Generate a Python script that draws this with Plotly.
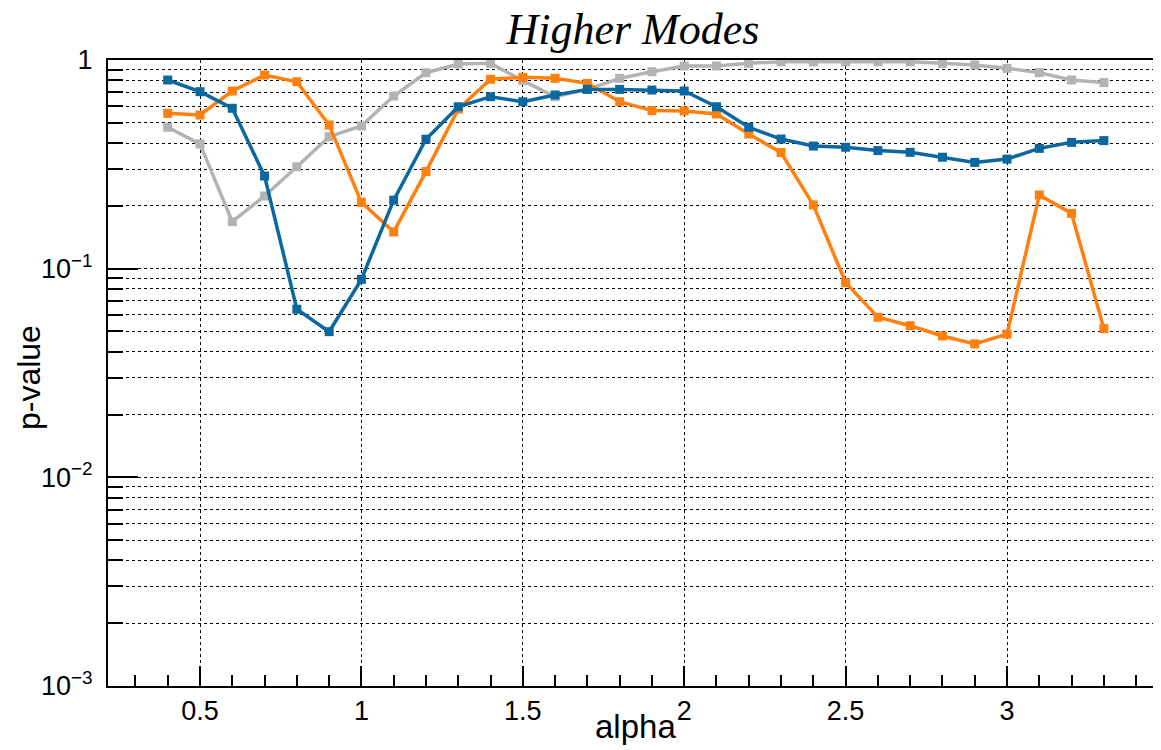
import plotly.graph_objects as go

alpha = [0.4, 0.5, 0.6, 0.7, 0.8, 0.9, 1.0, 1.1, 1.2, 1.3, 1.4, 1.5, 1.6, 1.7, 1.8,
         1.9, 2.0, 2.1, 2.2, 2.3, 2.4, 2.5, 2.6, 2.7, 2.8, 2.9, 3.0, 3.1, 3.2, 3.3]

pval_blue = [0.802, 0.705, 0.587, 0.278, 0.0639, 0.0499, 0.0889, 0.213, 0.417, 0.597,
             0.667, 0.631, 0.680, 0.723, 0.723, 0.718, 0.710, 0.597, 0.476, 0.418,
             0.387, 0.382, 0.368, 0.361, 0.342, 0.323, 0.335, 0.377, 0.403, 0.411]

pval_orange = [0.555, 0.545, 0.710, 0.847, 0.787, 0.488, 0.208, 0.150, 0.292, 0.582,
               0.808, 0.826, 0.817, 0.773, 0.631, 0.572, 0.570, 0.551, 0.442, 0.360,
               0.202, 0.0857, 0.0585, 0.0533, 0.0476, 0.0436, 0.0486, 0.2255, 0.184, 0.0516]

pval_gray = [0.476, 0.396, 0.168, 0.223, 0.308, 0.429, 0.483, 0.672, 0.869, 0.957,
             0.964, 0.796, 0.667, 0.723, 0.817, 0.879, 0.936, 0.936, 0.964, 0.980,
             0.980, 0.980, 0.980, 0.980, 0.964, 0.946, 0.912, 0.870, 0.802, 0.779]

x_ticks = [0.5, 1, 1.5, 2, 2.5, 3]
x_tick_text = ["0.5", "1", "1.5", "2", "2.5", "3"]
x_minor = [0.3, 0.4, 0.6, 0.7, 0.8, 0.9, 1.1, 1.2, 1.3, 1.4, 1.6, 1.7, 1.8, 1.9,
           2.1, 2.2, 2.3, 2.4, 2.6, 2.7, 2.8, 2.9, 3.1, 3.2, 3.3, 3.4]
y_ticks = [0.001, 0.01, 0.1, 1]
y_tick_text = ["10<sup>\u22123</sup>", "10<sup>\u22122</sup>", "10<sup>\u22121</sup>", "1"]
y_minor = [m * d for d in [0.001, 0.01, 0.1] for m in range(2, 10)]

series = [
    (pval_gray, "#b3b3b3"),
    (pval_orange, "#ff800e"),
    (pval_blue, "#0b67a0"),
]

fig = go.Figure()
for vals, col in series:
    fig.add_trace(go.Scatter(
        x=alpha, y=vals, mode="lines+markers",
        line=dict(color=col, width=3.5),
        marker=dict(symbol="square", size=9, color=col),
        showlegend=False,
    ))

# page body has an 8px margin, so the figure is sized/placed to compensate
fig.update_layout(
    width=1153, height=742,
    margin=dict(l=100, r=0, t=52, b=64, autoexpand=False),
    paper_bgcolor="white", plot_bgcolor="white",
    font=dict(family="Liberation Sans, Arial, sans-serif", color="black"),
    title=dict(text="<i>Higher Modes</i>", x=0.542, xanchor="center", y=0.9725, yanchor="middle",
               font=dict(family="Liberation Serif, Times New Roman, serif", size=44, color="black")),
)

fig.update_xaxes(
    range=[0.215, 3.477],
    tickmode="array", tickvals=x_ticks, ticktext=x_tick_text,
    ticks="inside", ticklen=20, tickwidth=1.5, tickcolor="black",
    tickfont=dict(size=27),
    ticklabelstandoff=0,
    automargin=False,
    showline=True, linecolor="black", linewidth=2, mirror=True,
    showgrid=True, gridcolor="black", gridwidth=1, griddash="dot",
    zeroline=False,
    minor=dict(tickmode="array", tickvals=x_minor, ticks="inside", ticklen=11,
               tickwidth=1.5, tickcolor="black", showgrid=False),
)

fig.update_yaxes(
    type="log", range=[-3, 0],
    tickmode="array", tickvals=y_ticks, ticktext=y_tick_text,
    ticks="inside", ticklen=30, tickwidth=1.5, tickcolor="black",
    tickfont=dict(size=27),
    ticklabelstandoff=8,
    automargin=False,
    showline=True, linecolor="black", linewidth=2, mirror=False,
    showgrid=True, gridcolor="black", gridwidth=1, griddash="dot",
    zeroline=False,
    minor=dict(tickmode="array", tickvals=y_minor, ticks="inside", ticklen=15,
               tickwidth=1.5, tickcolor="black", showgrid=True,
               gridcolor="black", gridwidth=1, griddash="dot"),
)

fig.add_annotation(text="alpha", xref="paper", yref="paper", x=0.5005, y=-0.064,
                   xanchor="center", yanchor="middle", showarrow=False,
                   font=dict(size=33, color="black"))
fig.add_annotation(text="p-value", xref="paper", yref="paper", x=-0.075, y=0.492,
                   xanchor="center", yanchor="middle", showarrow=False, textangle=-90,
                   font=dict(size=32, color="black"))

fig.write_html("out.html")
